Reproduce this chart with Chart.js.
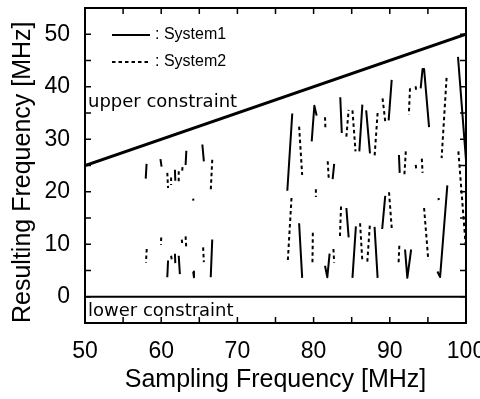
<!DOCTYPE html>
<html lang="en">
<head>
<meta charset="UTF-8">
<title>Resulting Frequency vs Sampling Frequency</title>
<script src="https://cdn.jsdelivr.net/npm/chart.js"></script>
<style>
  body { margin: 0; background: #fff; }
</style>
</head>
<body>
<canvas id="freqChart" width="480" height="399"></canvas>
<script>
// axis ranges and tick labels (MHz)
const xRange = [50, 100];
const yRange = [-5, 55];
const xTickValues = [50, 60, 70, 80, 90, 100];
const yTickValues = [0, 10, 20, 30, 40, 50];
const xTickMarks = [55, 60, 65, 70, 75, 80, 85, 90, 95];
const yTickMarks = [0, 5, 10, 15, 20, 25, 30, 35, 40, 45, 50];

// constraints: [sampling freq, resulting freq]
const upperConstraint = [[50, 25], [100, 50]];
const lowerConstraint = [[50, 0], [100, 0]];

// System1 (solid) - short segments
const system1Segments = [
  [[57.97, 22.5], [58.08, 25.3]],
  [[59.9, 26.2], [60.05, 24.8]],
  [[61.8, 24.2], [61.85, 22.1]],
  [[63.3, 27.8], [63.2, 25.1]],
  [[65.4, 29.0], [65.6, 25.8]],
  [[60.9, 6.9], [60.8, 3.7]],
  [[61.8, 8.2], [61.85, 6.4]],
  [[62.3, 7.8], [62.45, 4.3]],
  [[64.2, 4.8], [64.3, 3.7]],
  [[66.7, 10.9], [66.5, 3.7]],
  [[77.2, 34.9], [76.55, 20.2]],
  [[78.1, 14.0], [78.5, 3.6]],
  [[79.75, 29.6], [80.1, 36.4], [80.4, 34.5]],
  [[82.7, 25.3], [82.5, 22.4]],
  [[81.5, 5.9], [81.8, 3.7], [82.1, 8.2]],
  [[83.5, 38.0], [83.7, 31.2]],
  [[84.3, 16.9], [84.6, 11.3]],
  [[85.1, 3.6], [85.55, 13.4]],
  [[86.0, 27.7], [86.4, 36.6]],
  [[86.9, 35.5], [87.4, 27.3]],
  [[88.0, 13.3], [88.4, 3.6]],
  [[89.0, 12.9], [89.4, 19.2]],
  [[89.85, 33.6], [90.25, 41.3]],
  [[91.2, 27.0], [91.3, 23.6]],
  [[92.0, 9.0], [92.3, 3.6], [92.8, 9.0]],
  [[94.05, 39.7], [94.3, 43.4], [94.5, 43.4], [95.15, 32.3]],
  [[96.25, 4.8], [96.6, 3.75], [97.55, 21.2]],
  [[98.95, 45.7], [100, 26.0]]
];

// System2 (dashed)
const system2Segments = [
  [[60.8, 23.6], [60.9, 20.7]],
  [[61.3, 22.7], [61.3, 21.3]],
  [[62.3, 23.9], [62.3, 21.5]],
  [[62.8, 24.7], [62.75, 24.0]],
  [[66.7, 26.1], [66.5, 20.2]],
  [[64.2, 18.7], [64.22, 18.3]],
  [[58.1, 9.1], [58.0, 6.5]],
  [[60.0, 11.3], [59.97, 9.9]],
  [[61.3, 7.8], [61.4, 7.0]],
  [[62.7, 10.9], [62.75, 10.2]],
  [[63.2, 11.5], [63.3, 9.1]],
  [[65.5, 9.4], [65.6, 6.6]],
  [[77.1, 18.8], [76.6, 6.5]],
  [[78.1, 32.4], [78.5, 23.2]],
  [[80.3, 20.5], [80.3, 19.0]],
  [[79.9, 12.2], [79.85, 6.5]],
  [[81.5, 34.2], [81.55, 32.1]],
  [[81.85, 25.8], [82.0, 22.2]],
  [[82.6, 9.1], [82.7, 6.5]],
  [[83.6, 17.2], [83.45, 11.2]],
  [[84.3, 30.5], [84.6, 35.6]],
  [[85.1, 35.5], [85.5, 27.7]],
  [[86.1, 14.0], [86.4, 6.7]],
  [[87.05, 6.7], [87.4, 14.0]],
  [[88.4, 35.0], [88.0, 26.7]],
  [[89.05, 37.8], [89.4, 33.4]],
  [[89.9, 19.9], [90.25, 13.1]],
  [[91.25, 9.7], [91.15, 6.4]],
  [[92.1, 27.7], [91.9, 22.8]],
  [[92.65, 39.7], [92.5, 34.7]],
  [[93.4, 40.1], [93.45, 39.2]],
  [[93.4, 25.1], [93.5, 23.9]],
  [[94.2, 26.3], [94.3, 23.6]],
  [[94.5, 16.9], [95.05, 7.0]],
  [[96.4, 18.8], [96.42, 18.4]],
  [[97.45, 41.7], [96.8, 26.4]],
  [[99.0, 27.7], [100, 9.0]]
];

// flatten segments into one line dataset, null y breaks the line
function toPoints(segments) {
  const pts = [];
  segments.forEach((seg, i) => {
    if (i > 0) pts.push({ x: seg[0][0], y: null });
    seg.forEach(([x, y]) => pts.push({ x: x, y: y }));
  });
  return pts;
}

const axisFont = 'Liberation Sans, Arial, sans-serif';

// box, inward ticks, in-plot legend and constraint labels
const decorations = {
  id: 'decorations',
  afterDatasetsDraw(chart) {
    const { ctx, chartArea: a, scales: { x, y } } = chart;
    ctx.save();
    ctx.strokeStyle = '#000';
    ctx.lineWidth = 2;
    ctx.strokeRect(a.left, a.top, a.right - a.left, a.bottom - a.top);

    ctx.lineWidth = 1.5;
    ctx.beginPath();
    xTickMarks.forEach(v => {
      const px = x.getPixelForValue(v);
      ctx.moveTo(px, a.bottom); ctx.lineTo(px, a.bottom - 6);
      ctx.moveTo(px, a.top); ctx.lineTo(px, a.top + 6);
    });
    yTickMarks.forEach(v => {
      const py = y.getPixelForValue(v);
      ctx.moveTo(a.left, py); ctx.lineTo(a.left + 6, py);
      ctx.moveTo(a.right, py); ctx.lineTo(a.right - 6, py);
    });
    ctx.stroke();

    // legend
    const lx = a.left + 27, lw = 38;
    ctx.lineWidth = 2;
    ctx.beginPath();
    ctx.moveTo(lx, a.top + 27); ctx.lineTo(lx + lw, a.top + 27);
    ctx.stroke();
    ctx.setLineDash([3.5, 3]);
    ctx.beginPath();
    ctx.moveTo(lx, a.top + 54); ctx.lineTo(lx + lw, a.top + 54);
    ctx.stroke();
    ctx.setLineDash([]);

    ctx.fillStyle = '#000';
    ctx.textBaseline = 'middle';
    ctx.font = '16px ' + axisFont;
    ctx.fillText(': System1', lx + lw + 5, a.top + 27);
    ctx.fillText(': System2', lx + lw + 5, a.top + 54);

    ctx.textBaseline = 'alphabetic';
    ctx.font = '18px DejaVu Sans';
    ctx.fillText('upper constraint', a.left + 3, a.top + 99);
    ctx.fillText('lower constraint', a.left + 3, y.getPixelForValue(0) + 19);
    ctx.restore();
  }
};

const ctx = document.getElementById('freqChart').getContext('2d');

new Chart(ctx, {
  type: 'scatter',
  data: {
    datasets: [
      { label: 'upper constraint', data: toPoints([upperConstraint]), borderWidth: 3 },
      { label: 'lower constraint', data: toPoints([lowerConstraint]), borderWidth: 2 },
      { label: 'System1', data: toPoints(system1Segments), borderWidth: 2 },
      { label: 'System2', data: toPoints(system2Segments), borderWidth: 2, borderDash: [3.5, 3] }
    ].map(ds => Object.assign({
      showLine: true,
      spanGaps: false,
      borderColor: '#000',
      borderJoinStyle: 'round',
      pointRadius: 0,
      tension: 0
    }, ds))
  },
  options: {
    responsive: false,
    animation: false,
    layout: { padding: { top: 8, right: 14, left: 0, bottom: 0 } },
    plugins: {
      legend: { display: false },
      tooltip: { enabled: false }
    },
    scales: {
      x: {
        type: 'linear',
        min: xRange[0],
        max: xRange[1],
        afterBuildTicks: axis => { axis.ticks = xTickValues.map(v => ({ value: v })); },
        afterFit: s => { s.paddingLeft = 0; s.paddingRight = 0; s.height = 76; },
        grid: { display: false, drawTicks: false },
        border: { display: false },
        ticks: { color: '#000', padding: 15, maxRotation: 0, autoSkip: false, font: { family: axisFont, size: 23 } },
        title: {
          display: true,
          text: 'Sampling Frequency [MHz]',
          color: '#000',
          font: { family: axisFont, size: 25 },
          padding: { top: 4, bottom: 4 }
        }
      },
      y: {
        type: 'linear',
        min: yRange[0],
        max: yRange[1],
        afterBuildTicks: axis => { axis.ticks = yTickValues.map(v => ({ value: v })); },
        afterFit: s => { s.paddingTop = 0; s.paddingBottom = 0; s.width = 85; },
        grid: { display: false, drawTicks: false },
        border: { display: false },
        ticks: { color: '#000', padding: 15, autoSkip: false, font: { family: axisFont, size: 23 } },
        title: {
          display: true,
          text: 'Resulting Frequency [MHz]',
          color: '#000',
          align: 'start',
          font: { family: axisFont, size: 25 },
          padding: { top: 8, bottom: 8 }
        }
      }
    }
  },
  plugins: [decorations]
});
</script>
</body>
</html>
